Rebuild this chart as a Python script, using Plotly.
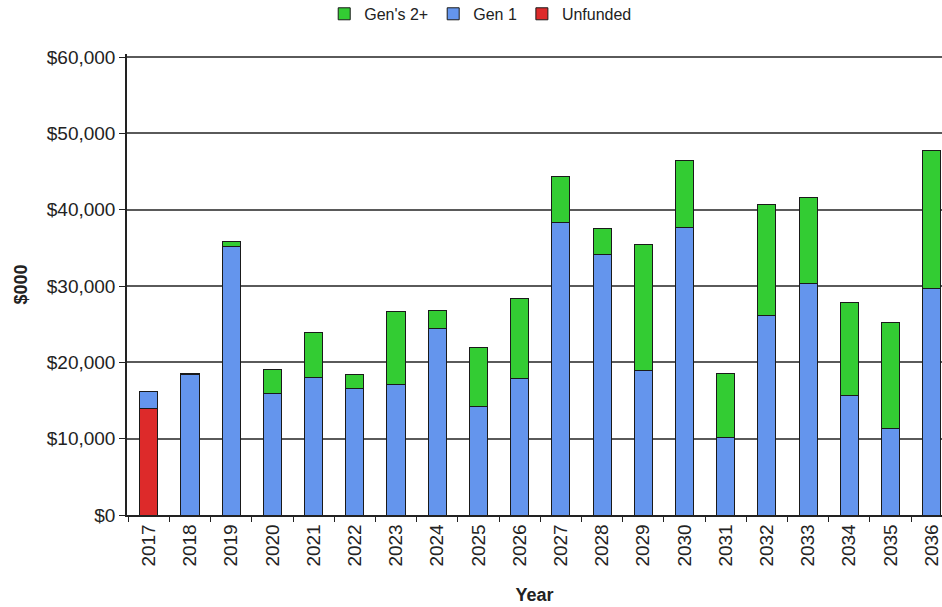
import plotly.graph_objects as go

# Annual funding by source, $000
years = [str(y) for y in range(2017, 2037)]
unfunded = [14000, 0, 0, 0, 0, 0, 0, 0, 0, 0, 0, 0, 0, 0, 0, 0, 0, 0, 0, 0]
gen1 = [2200, 18400, 35200, 15900, 18000, 16600, 17100, 24400, 14200, 17900,
        38300, 34100, 18900, 37700, 10200, 26100, 30300, 15700, 11300, 29700]
gen2plus = [0, 200, 700, 3100, 5900, 1800, 9500, 2400, 7800, 10500,
            6000, 3400, 16600, 8800, 8400, 14600, 11300, 12200, 13900, 18100]
y_ticks = [0, 10000, 20000, 30000, 40000, 50000, 60000]

font_family = "Liberation Sans, Arial, sans-serif"
text_color = "#222222"
outline = dict(color="#1a1a1a", width=1)

fig = go.Figure()
fig.add_trace(go.Bar(x=years, y=unfunded, name="Unfunded",
                     marker=dict(color="#DD2A2A", line=outline)))
fig.add_trace(go.Bar(x=years, y=gen1, name="Gen 1",
                     marker=dict(color="#6495ED", line=outline)))
fig.add_trace(go.Bar(x=years, y=gen2plus, name="Gen's 2+",
                     marker=dict(color="#33CC33", line=outline)))

fig.update_layout(
    width=942, height=607,
    margin=dict(l=127, r=0, t=54, b=92, autoexpand=False),
    barmode="stack",
    bargap=0.56,
    plot_bgcolor="white",
    paper_bgcolor="white",
    font=dict(family=font_family, color=text_color, size=16),
    legend=dict(orientation="h", traceorder="reversed",
                xref="paper", x=0.434, xanchor="center",
                yref="paper", y=1.087, yanchor="middle",
                font=dict(size=16), itemwidth=30,
                bgcolor="rgba(0,0,0,0)"),
    showlegend=True,
)

fig.update_xaxes(
    type="category",
    range=[-0.53, 19.25],
    tickangle=-90,
    tickfont=dict(size=19),
    ticks="outside", tickson="boundaries", ticklen=5, tickcolor="#222",
    showline=True, linecolor="#222", linewidth=1.5,
    showgrid=False,
    title=dict(text="Year", font=dict(size=18, weight="bold"), standoff=23),
)

fig.update_yaxes(
    range=[0, 60400],
    tickvals=y_ticks,
    tickformat="$,d",
    tickfont=dict(size=19),
    ticks="outside", ticklen=6, tickcolor="#222",
    showline=True, linecolor="#222", linewidth=1.5,
    showgrid=True, gridcolor="#5a5a5a", gridwidth=1.5,
    zeroline=False,
    title=dict(text="$000", font=dict(size=18, weight="bold"), standoff=14),
)

fig.write_html("out.html")
